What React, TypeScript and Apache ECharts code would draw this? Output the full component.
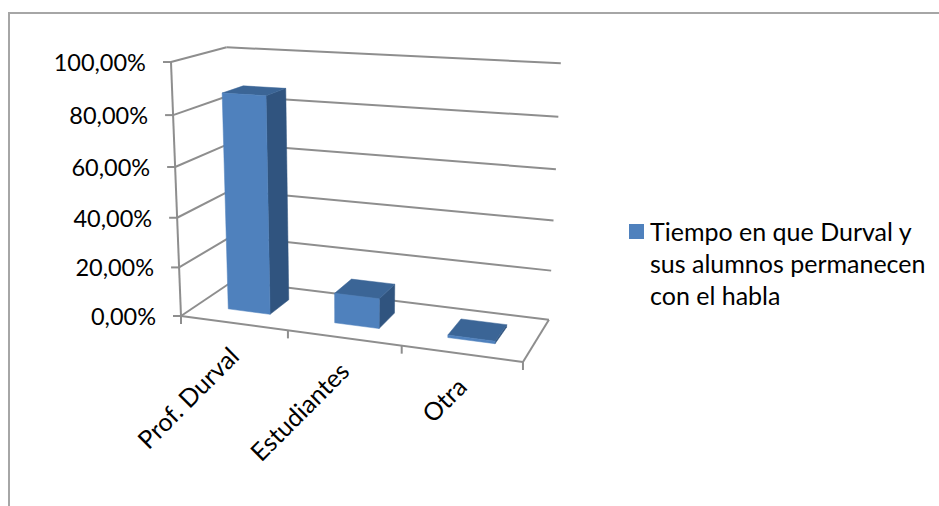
import React, { useEffect, useRef } from "react";
import * as echarts from "echarts";

const categories = ["Prof. Durval", "Estudiantes", "Otra"];
const shareValues = [87, 12, 1];
const valueTicks = [0, 20, 40, 60, 80, 100];
const valueTickLabels = ["0,00%", "20,00%", "40,00%", "60,00%", "80,00%", "100,00%"];
const seriesName = "Tiempo en que Durval y\nsus alumnos permanecen\ncon el habla";

const WIDTH = 939;
const HEIGHT = 506;
const FONT = "Lato";
const AXIS_COLOR = "#8e8e8e";

// Projective camera: u runs along the categories, v up the value axis, w into the depth.
function project(u: number, v: number, w: number): [number, number] {
  const d = 1 - 0.09 * u - 0.0537 * v + 0.09 * w;
  return [
    (181 + 294.9 * u - 19.2 * v + 73 * w + 1 * u * v) / d,
    (316 + 13.4 * u - 257.3 * v - 9.7 * w - 2.6 * u * v) / d,
  ];
}

// The hidden cartesian grid fills the chart, so its pixels convert to unit coordinates.
const toU = (px: number) => px / WIDTH;
const toV = (py: number) => (HEIGHT - py) / HEIGHT;

const line = (a: number[], b: number[]) => ({
  type: "line",
  shape: { x1: a[0], y1: a[1], x2: b[0], y2: b[1] },
  style: { stroke: AXIS_COLOR, lineWidth: 2 },
});

const poly = (points: number[][], fill: string) => ({
  type: "polygon",
  shape: { points },
  style: { fill, stroke: fill, lineWidth: 0.5 },
});

function renderValueTick(_: any, api: any) {
  const value = api.value(1);
  const v = toV(api.coord([0, value])[1]);
  const front = project(0, v, 0);
  const back = project(0, v, 1);
  const right = project(1, v, 1);
  const children: any[] = [
    line(front, back),
    line(back, right),
    line([front[0] - 8, front[1]], front),
    {
      type: "text",
      style: {
        text: valueTickLabels[valueTicks.indexOf(value)],
        x: front[0] - 25,
        y: front[1],
        align: "right",
        verticalAlign: "middle",
        fontFamily: FONT,
        fontSize: 23.5,
        fill: "#000000",
      },
    },
  ];
  if (value === 0) {
    const top = project(0, 1, 0);
    children.push(
      line(top, front),
      line(project(0, 0, 0), project(1, 0, 0)),
      line(project(1, 0, 0), project(1, 0, 1))
    );
  }
  return { type: "group", children };
}

function renderCategoryAxis(_: any, api: any) {
  const index = api.value(0);
  const center = toU(api.coord([index, 0])[0]);
  const half = toU(api.size([1, 0])[0]) / 2;
  const foot = project(center, 0, 0);
  const children: any[] = [
    {
      type: "text",
      x: foot[0],
      y: foot[1] + 28,
      rotation: Math.PI / 4,
      style: {
        text: categories[index],
        x: 0,
        y: 0,
        align: "right",
        verticalAlign: "middle",
        fontFamily: FONT,
        fontSize: 25,
        fill: "#000000",
      },
    },
  ];
  const left = project(center - half, 0, 0);
  children.push(line(left, [left[0], left[1] + 8]));
  if (index === categories.length - 1) {
    const end = project(center + half, 0, 0);
    children.push(line(end, [end[0], end[1] + 8]));
  }
  return { type: "group", children };
}

function renderBar(_: any, api: any) {
  const top = api.coord([api.value(0), api.value(1)]);
  const u = toU(top[0]);
  const v = toV(top[1]);
  const half = toU(api.size([1, 0])[0]) * 0.2;
  const [u0, u1, w0, w1] = [u - half, u + half, 0.3, 0.7];
  return {
    type: "group",
    children: [
      poly(
        [project(u1, 0, w0), project(u1, 0, w1), project(u1, v, w1), project(u1, v, w0)],
        "#30547f"
      ),
      poly(
        [project(u0, v, w0), project(u1, v, w0), project(u1, v, w1), project(u0, v, w1)],
        "#3b6596"
      ),
      poly(
        [project(u0, 0, w0), project(u1, 0, w0), project(u1, v, w0), project(u0, v, w0)],
        "#4f81bd"
      ),
    ],
  };
}

export default function App() {
  const ref = useRef<HTMLDivElement>(null);

  useEffect(() => {
    document.body.style.margin = "0";
    const chart = echarts.init(ref.current!, null, { renderer: "svg" });
    chart.setOption({
      animation: false,
      backgroundColor: "#ffffff",
      grid: { left: 0, right: 0, top: 0, bottom: 0 },
      xAxis: { type: "category", data: categories, show: false },
      yAxis: { type: "value", min: 0, max: 100, interval: 20, show: false },
      legend: {
        data: [seriesName],
        left: 629,
        top: 215,
        orient: "vertical",
        padding: 0,
        itemWidth: 15,
        itemHeight: 96,
        itemGap: 0,
        // The swatch sits beside the first line of the wrapped label.
        icon: "path://M0 9H15V24H0Z M0 0L0 0 M0 96L0 96",
        selectedMode: false,
        textStyle: {
          fontFamily: FONT,
          fontSize: 25,
          lineHeight: 32,
          color: "#000000",
          padding: [0, 0, 0, 1],
        },
      },
      graphic: [
        {
          type: "polyline",
          silent: true,
          shape: { points: [[9, 508], [9, 13], [941, 13]] },
          style: { stroke: "#a6a6a6", lineWidth: 2, fill: "none" },
        },
      ],
      series: [
        {
          type: "custom",
          name: "Eje de valores",
          z: 1,
          silent: true,
          clip: false,
          renderItem: renderValueTick,
          data: valueTicks.map((t) => [0, t]),
        },
        {
          type: "custom",
          name: "Eje de categorías",
          z: 1,
          silent: true,
          clip: false,
          renderItem: renderCategoryAxis,
          data: categories.map((_, i) => [i, 0]),
        },
        {
          type: "custom",
          name: seriesName,
          z: 2,
          silent: true,
          clip: false,
          itemStyle: { color: "#4f81bd" },
          renderItem: renderBar,
          data: shareValues.map((v, i) => [i, v]),
        },
      ],
    });
    return () => chart.dispose();
  }, []);

  return <div ref={ref} style={{ width: WIDTH, height: HEIGHT }} />;
}
